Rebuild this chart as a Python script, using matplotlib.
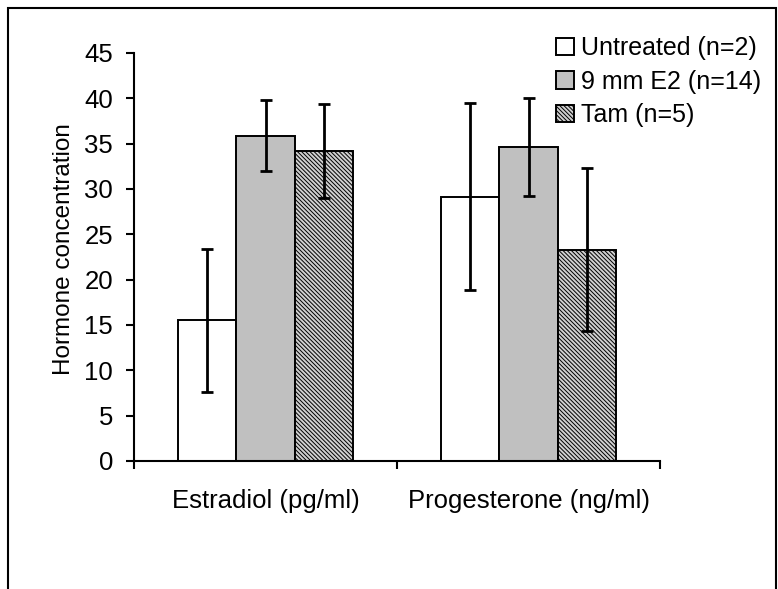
import numpy as np
import matplotlib
matplotlib.use('Agg')
import matplotlib.pyplot as plt
from matplotlib.patches import Rectangle

plt.rcParams['font.family'] = ['Liberation Sans', 'DejaVu Sans']
plt.rcParams['hatch.linewidth'] = 0.7
plt.rcParams['hatch.color'] = '#505050'

categories = ['Estradiol (pg/ml)', 'Progesterone (ng/ml)']
groups = ['Untreated (n=2)', '9 mm E2 (n=14)', 'Tam (n=5)']
means = [[15.5, 29.15],   # Untreated
         [35.9, 34.6],    # 9 mm E2
         [34.2, 23.3]]    # Tam
errors = [[7.9, 10.3],
          [3.95, 5.4],
          [5.2, 9.0]]
y_ticks = [0, 5, 10, 15, 20, 25, 30, 35, 40, 45]

W, H = 778, 589
fs = 18.5
fig = plt.figure(figsize=(W / 100, H / 100), dpi=100)
ax = fig.add_axes([134 / W, 1 - 461 / H, (660 - 134) / W, (461 - 53) / H])

face = ['white', '#c0c0c0', '#d0d0d0']
hatch = [None, None, '\\\\\\\\\\\\\\\\']
w = 2 / 9
x = np.arange(len(categories))
for j in range(len(groups)):
    ax.bar(x + (j - 1) * w, means[j], w, color=face[j], edgecolor='black',
           linewidth=1.4, hatch=hatch[j], label=groups[j], zorder=2)
    ax.errorbar(x + (j - 1) * w, means[j], yerr=errors[j], fmt='none',
                ecolor='black', elinewidth=2.0, capsize=4, capthick=2.0, zorder=3)

ax.set_xlim(-0.5, 1.5)
ax.set_ylim(0, 45)
ax.set_yticks(y_ticks)
ax.set_xticks([-0.5, 0.5, 1.5])
ax.set_xticklabels([])
ax.set_xticks(x, minor=True)
ax.set_xticklabels(categories, minor=True, fontsize=fs)
ax.tick_params(axis='x', which='minor', length=0, pad=20)
ax.tick_params(axis='x', which='major', direction='out', length=6, width=1.5)
ax.tick_params(axis='y', direction='out', length=6, width=1.5, labelsize=fs, pad=9)
for s in ['top', 'right']:
    ax.spines[s].set_visible(False)
for s in ['left', 'bottom']:
    ax.spines[s].set_linewidth(1.5)
ax.set_ylabel('Hormone concentration', fontsize=17.5)
ax.yaxis.set_label_coords(-0.112, 0.52)

ax.legend(loc='upper left', bbox_to_anchor=(556 / W, 1 - 36 / H),
          bbox_transform=fig.transFigure, frameon=False, fontsize=18,
          handlelength=0.7, handleheight=0.7, handletextpad=0.3,
          labelspacing=0.38, borderpad=0, borderaxespad=0)

fig.patches.append(Rectangle((8 / W, -0.1), (776 - 8) / W, 1.1 - 8 / H,
                             transform=fig.transFigure, fill=False,
                             edgecolor='black', linewidth=1.5))

fig.savefig('out.png', dpi=100)
